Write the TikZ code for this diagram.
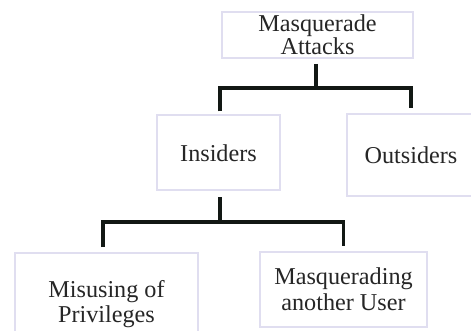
\documentclass[tikz,border=0pt]{standalone}
\usepackage{fontspec}
\setmainfont{Liberation Serif}
\definecolor{boxline}{RGB}{224,222,240}
\definecolor{connline}{RGB}{18,24,20}
\tikzset{
  box/.style={draw=boxline, line width=2pt, fill=white, align=center,
    inner sep=0pt, font=\fontsize{24.2}{25.5}\selectfont, text=black!85},
  conn/.style={draw=connline, line width=3.6pt}
}
\begin{document}
\begin{tikzpicture}[x=1pt,y=-1pt]
\useasboundingbox (0,0) rectangle (471,331);
\node[box, minimum width=191pt, minimum height=46pt, font=\fontsize{24.2}{23}\selectfont] (top) at (317.5,35) {Masquerade\\Attacks};
\node[box, minimum width=123pt, minimum height=75pt] (ins) at (218.5,153) {Insiders};
\node[box, minimum width=128pt, minimum height=82pt] (out) at (411,155) {Outsiders};
\node[box, minimum width=183pt, minimum height=102pt] (mis) at (106.5,304) {Misusing of\\Privileges};
\node[box, minimum width=167pt, minimum height=75pt] (masq) at (343.5,289) {Masquerading\\another User};
\coordinate (b1) at (316,88);
\coordinate (b2) at (220,222);
\draw[conn] ([yshift=-5pt,xshift=-1.5pt]top.south) -- (b1);
\draw[conn] ([yshift=3pt,xshift=1.5pt]ins.north) |- (b1) -| ([yshift=5pt]out.north);
\draw[conn] ([yshift=-6pt,xshift=1.5pt]ins.south) -- (b2);
\draw[conn] ([yshift=5pt,xshift=-3.5pt]mis.north) |- (b2) -| ([yshift=5pt]masq.north);
\end{tikzpicture}
\end{document}
